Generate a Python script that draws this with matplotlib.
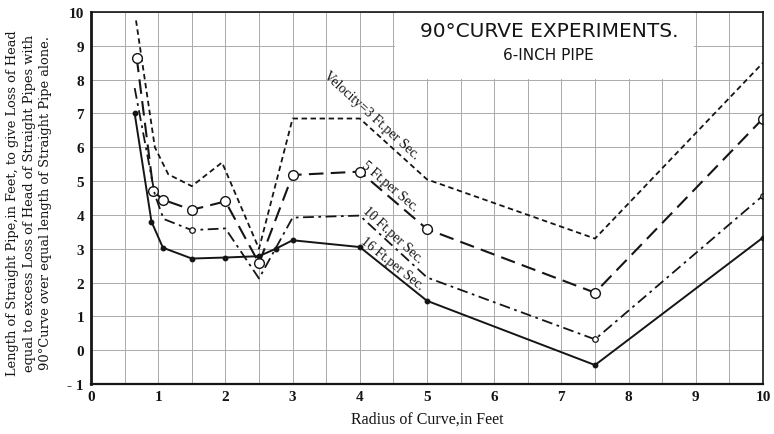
import math
import matplotlib.pyplot as plt
from matplotlib.patches import Rectangle

# radius of curve (ft) vs. equivalent length of straight pipe (ft), one series per velocity
x_3 = [0.67, 0.95, 1.15, 1.5, 1.95, 2.5, 3, 4, 5, 7.5, 10]
y_3 = [9.75, 6.0, 5.2, 4.85, 5.55, 3.0, 6.85, 6.85, 5.05, 3.3, 8.5]
x_5 = [0.68, 0.93, 1.07, 1.5, 2, 2.5, 3, 4, 5, 7.5, 10]
y_5 = [8.65, 4.7, 4.45, 4.15, 4.4, 2.57, 5.18, 5.28, 3.58, 1.7, 6.85]
x_10 = [0.65, 0.95, 1.08, 1.5, 2, 2.5, 3, 4, 5, 7.5, 10]
y_10 = [7.75, 4.6, 3.88, 3.55, 3.6, 2.12, 3.92, 3.98, 2.15, 0.32, 4.57]
x_16 = [0.65, 0.9, 1.07, 1.5, 2, 2.5, 2.75, 3, 4, 5, 7.5, 10]
y_16 = [7.0, 3.8, 3.03, 2.71, 2.74, 2.78, 3.0, 3.25, 3.05, 1.46, -0.44, 3.33]

series_labels = ['Velocity=3 Ft.per Sec.', '5 Ft.per Sec.', '10 Ft.per Sec.', '16 Ft.per Sec.']
x_ticks = list(range(0, 11))
y_ticks = list(range(-1, 11))
y_tick_labels = ['- 1'] + [str(v) for v in range(0, 11)]
ylabel_lines = [
    'Length of Straight Pipe,in Feet, to give Loss of Head',
    'equal to excess Loss of Head of Straight Pipes with',
    '90\u00b0Curve over equal length of Straight Pipe alone.',
]

ink = '#151515'
serif = 'Liberation Serif'

fig = plt.figure(figsize=(7.74, 4.35), dpi=100)
ax = fig.add_axes([91 / 774, 50 / 435, 672 / 774, 372 / 435])
ax.set_xlim(0, 10)
ax.set_ylim(-1, 10)

# grid: half-foot verticals, one-foot horizontals
ax.set_xticks(x_ticks)
ax.set_xticks([v + 0.5 for v in range(10)], minor=True)
ax.set_yticks(y_ticks)
ax.set_xticklabels([str(v) for v in x_ticks], family=serif, fontsize=11, fontweight='bold')
ax.set_yticklabels(y_tick_labels, family=serif, fontsize=11, fontweight='bold')
ax.tick_params(which='both', length=0, colors=ink)
ax.tick_params(axis='x', pad=4)
ax.tick_params(axis='y', pad=5)
ax.set_axisbelow(True)
ax.grid(True, which='both', axis='x', color='#aaaaaa', lw=0.7)
ax.grid(True, which='major', axis='y', color='#aaaaaa', lw=0.7)

for side, w in (('left', 2.0), ('bottom', 1.6), ('top', 1.2), ('right', 1.2)):
    ax.spines[side].set_linewidth(w)
    ax.spines[side].set_color(ink)

# blank panel behind the title
ax.add_patch(Rectangle((4.52, 8.03), 4.46, 1.97, facecolor='white', edgecolor='none', zorder=1))
ax.text(6.82, 9.45, '90\u00b0CURVE EXPERIMENTS.', ha='center', va='center',
        fontsize=14.5, family='DejaVu Sans', color=ink, zorder=3)
ax.text(6.8, 8.73, '6-INCH PIPE', ha='center', va='center',
        fontsize=11, family='DejaVu Sans', color=ink, zorder=3)

ax.plot(x_3, y_3, color=ink, lw=1.3, dashes=(3, 2), zorder=2)
ax.plot(x_5, y_5, color=ink, lw=1.5, dashes=(7, 3.5), marker='o', ms=7,
        mfc='white', mec=ink, mew=1.0, zorder=2)
ax.plot(x_10, y_10, color=ink, lw=1.3, dashes=(6, 2.5, 1.5, 2.5), marker='o', ms=4,
        mfc='white', mec=ink, mew=0.9, markevery=[3, 9, 10], zorder=2)
ax.plot(x_16, y_16, color=ink, lw=1.4, marker='o', ms=3.2, mfc=ink, mec=ink, zorder=2)

# labels running along the 4 ft -> 5 ft segment of each curve
offsets = [(-40, 3), (-2, 1.5), (-1, 1.5), (-2, 1.0)]
for (xs, ys), text, (along, perp) in zip([(x_3, y_3), (x_5, y_5), (x_10, y_10), (x_16, y_16)],
                                        series_labels, offsets):
    i4 = xs.index(4)
    p0 = ax.transData.transform((xs[i4], ys[i4]))
    p1 = ax.transData.transform((xs[i4 + 1], ys[i4 + 1]))
    ang = math.atan2(p1[1] - p0[1], p1[0] - p0[0])
    dx = along * math.cos(ang) - perp * math.sin(ang)
    dy = along * math.sin(ang) + perp * math.cos(ang)
    ax.annotate(text, xy=(xs[i4], ys[i4]), xytext=(dx, dy), textcoords='offset points',
                rotation=math.degrees(ang), rotation_mode='anchor', ha='left', va='bottom',
                family=serif, fontsize=10, color=ink, zorder=3)

ax.set_xlabel('Radius of Curve,in Feet', family=serif, fontsize=11.5, color=ink, labelpad=6)

for k, line in enumerate(ylabel_lines):
    fig.text((13 + 16.5 * k) / 774, 1 - 203 / 435, line, rotation=90, ha='center', va='center',
             family='DejaVu Serif', fontsize=9.4, color=ink)

fig.savefig('out.png', dpi=100)
